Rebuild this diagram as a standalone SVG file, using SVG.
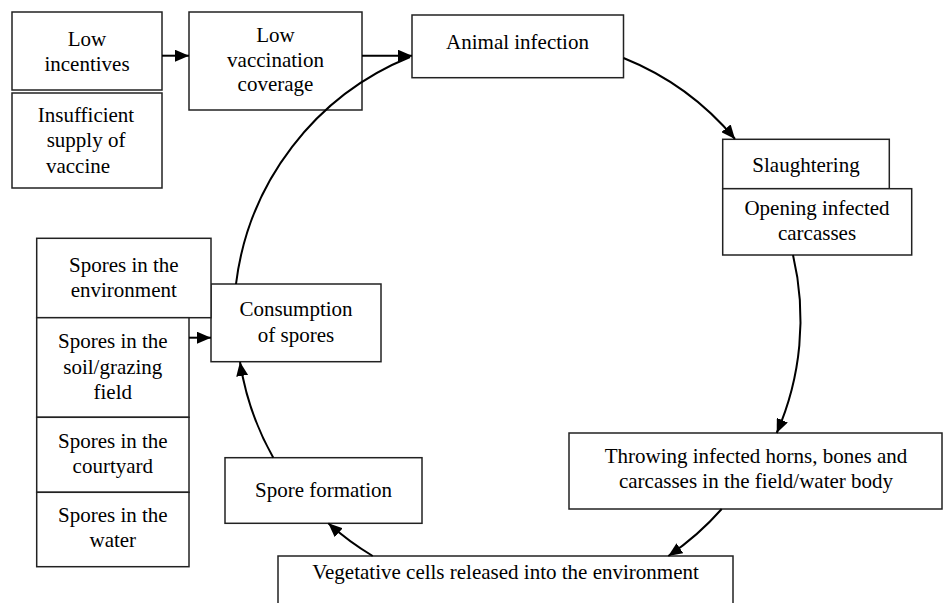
<svg xmlns="http://www.w3.org/2000/svg" width="944" height="603" viewBox="0 0 944 603">
<style>
.box{fill:#fff;stroke:#222;stroke-width:1.5}
.t{font-family:"Liberation Serif","Times New Roman",serif;font-size:21px;fill:#000;text-anchor:middle}
.c{fill:none;stroke:#000;stroke-width:2}
</style>
<defs>
<marker id="ah" markerWidth="14" markerHeight="12" refX="14" refY="6" orient="auto" markerUnits="userSpaceOnUse">
<path d="M0,0 L14,6 L0,12 z" fill="#000"/>
</marker>
</defs>
<rect width="944" height="603" fill="#fff"/>
<g id="low-incentives">
<rect class="box" x="12" y="12" width="150" height="78"/>
<text class="t" x="87" y="45.7">Low</text>
<text class="t" x="87" y="70.7">incentives</text>
</g>
<g id="insufficient-supply">
<rect class="box" x="12" y="93" width="150" height="95"/>
<text class="t" x="86" y="121.7">Insufficient</text>
<text class="t" x="86" y="147.3">supply of</text>
<text class="t" x="78" y="172.7">vaccine</text>
</g>
<g id="low-vaccination">
<rect class="box" x="189" y="12" width="173" height="98"/>
<text class="t" x="275.5" y="41.7">Low</text>
<text class="t" x="275.5" y="66.7">vaccination</text>
<text class="t" x="275.5" y="90.7">coverage</text>
</g>
<g id="animal-infection">
<rect class="box" x="412" y="15" width="211.5" height="62.7"/>
<text class="t" x="517.5" y="49">Animal infection</text>
</g>
<g id="slaughtering">
<rect class="box" x="722.7" y="139.3" width="166.6" height="49.4"/>
<text class="t" x="806" y="171.7">Slaughtering</text>
</g>
<g id="opening-carcasses">
<rect class="box" x="722.7" y="188.7" width="189" height="66.3"/>
<text class="t" x="817" y="215">Opening infected</text>
<text class="t" x="817" y="240">carcasses</text>
</g>
<g id="throwing">
<rect class="box" x="569" y="433" width="373" height="76"/>
<text class="t" x="756" y="463.3">Throwing infected horns, bones and</text>
<text class="t" x="756" y="488.3">carcasses in the field/water body</text>
</g>
<g id="vegetative-cells">
<rect class="box" x="278" y="556" width="455" height="60"/>
<text class="t" x="505.5" y="579">Vegetative cells released into the environment</text>
</g>
<g id="spore-formation">
<rect class="box" x="225" y="457.7" width="197" height="65.6"/>
<text class="t" x="323.5" y="496.7">Spore formation</text>
</g>
<g id="consumption">
<rect class="box" x="211" y="284" width="170" height="77.7"/>
<text class="t" x="296" y="316">Consumption</text>
<text class="t" x="296" y="341.7">of spores</text>
</g>
<g id="spores-environment">
<rect class="box" x="36.7" y="238.3" width="174.3" height="79.4"/>
<text class="t" x="123.8" y="271.7">Spores in the</text>
<text class="t" x="123.8" y="296.7">environment</text>
</g>
<g id="spores-soil">
<rect class="box" x="36.7" y="317.7" width="152.3" height="99.6"/>
<text class="t" x="112.8" y="348.3">Spores in the</text>
<text class="t" x="112.8" y="374">soil/grazing</text>
<text class="t" x="112.8" y="399">field</text>
</g>
<g id="spores-courtyard">
<rect class="box" x="36.7" y="417.3" width="152.3" height="75"/>
<text class="t" x="112.8" y="448.3">Spores in the</text>
<text class="t" x="112.8" y="473.3">courtyard</text>
</g>
<g id="spores-water">
<rect class="box" x="36.7" y="492.3" width="152.3" height="74.4"/>
<text class="t" x="112.8" y="522.3">Spores in the</text>
<text class="t" x="112.8" y="547.3">water</text>
</g>
<g id="connectors">
<path class="c" d="M162,55.7 L189,55.7" marker-end="url(#ah)"/>
<path class="c" d="M362,55.7 L412,55.7" marker-end="url(#ah)"/>
<path class="c" d="M236,284 A282,282 0 0 1 410,57"/>
<path class="c" d="M623.5,58 A282,282 0 0 1 735,139" marker-end="url(#ah)"/>
<path class="c" d="M793,255 A282,282 0 0 1 776.7,433" marker-end="url(#ah)"/>
<path class="c" d="M721.7,509 A282,282 0 0 1 668.3,556" marker-end="url(#ah)"/>
<path class="c" d="M372.7,556 A282,282 0 0 1 328.3,523.3" marker-end="url(#ah)"/>
<path class="c" d="M273.3,457.7 A282,282 0 0 1 240,362" marker-end="url(#ah)"/>
<path class="c" d="M189,337.7 L211,337.7" marker-end="url(#ah)"/>
</g>
</svg>
